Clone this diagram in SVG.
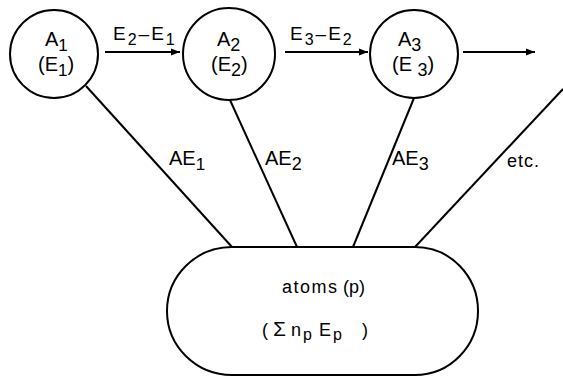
<svg xmlns="http://www.w3.org/2000/svg" width="563" height="377" viewBox="0 0 563 377">
<style>
.n{fill:none;stroke:#000;stroke-width:2}
.c{stroke:#000;stroke-width:2;fill:none}
text{font-family:"Liberation Sans",Arial,sans-serif;fill:#000}
.lb{font-size:20px}
.al{font-size:19px;letter-spacing:2px}
.sm{font-size:18px}
</style>
<defs>
<marker id="ah" markerUnits="userSpaceOnUse" markerWidth="10" markerHeight="8" refX="9" refY="4" orient="auto">
<path d="M0,0.5 L9,4 L0,7.5 z" fill="#000"/>
</marker>
</defs>
<g id="connectors">
<line class="c" x1="105" y1="52" x2="180" y2="52" marker-end="url(#ah)"/>
<line class="c" x1="285" y1="52" x2="368" y2="52" marker-end="url(#ah)"/>
<line class="c" x1="463" y1="52" x2="535" y2="52" marker-end="url(#ah)"/>
<line class="c" x1="86" y1="86" x2="232" y2="247"/>
<line class="c" x1="230" y1="100" x2="297" y2="247"/>
<line class="c" x1="414" y1="98" x2="353" y2="247"/>
<line class="c" x1="563" y1="89" x2="415" y2="247"/>
<text class="al" x="113" y="40">E<tspan dy="5" font-size="16">2</tspan><tspan dy="-5">–E</tspan><tspan dy="5" font-size="16">1</tspan></text>
<text class="al" x="290" y="40">E<tspan dy="5" font-size="16">3</tspan><tspan dy="-5">–E</tspan><tspan dy="5" font-size="16">2</tspan></text>
<text class="lb" x="169" y="165">AE<tspan dy="5" font-size="17">1</tspan></text>
<text class="lb" x="265" y="165">AE<tspan dy="5" font-size="18">2</tspan></text>
<text class="lb" x="392" y="165">AE<tspan dy="5" font-size="18">3</tspan></text>
<text class="sm" x="507" y="167" letter-spacing="1">etc.</text>
</g>
<g id="A1">
<circle class="n" cx="54" cy="54" r="44"/>
<text class="lb" x="45" y="46">A<tspan dy="5" font-size="17">1</tspan></text>
<text class="lb" x="38" y="71">(E<tspan dy="5" font-size="17">1</tspan><tspan dy="-5">)</tspan></text>
</g>
<g id="A2">
<circle class="n" cx="229" cy="54" r="46"/>
<text class="lb" x="217" y="46">A<tspan dy="5" font-size="18">2</tspan></text>
<text class="lb" x="211" y="71">(E<tspan dy="5" font-size="18">2</tspan><tspan dy="-5">)</tspan></text>
</g>
<g id="A3">
<circle class="n" cx="414" cy="54" r="44"/>
<text class="lb" x="398" y="46">A<tspan dy="5" font-size="18">3</tspan></text>
<text class="lb" x="392" y="71">(E <tspan dy="5" font-size="18">3</tspan><tspan dy="-5">)</tspan></text>
</g>
<g id="atoms">
<path class="n" d="M232,247 H415 A63,64 0 0 1 415,375 H232 A65,64 0 0 1 232,247 Z"/>
<text class="sm" y="293"><tspan x="282" letter-spacing="1.5">atoms</tspan><tspan x="343">(p)</tspan></text>
<text class="sm" y="336" font-size="19"><tspan x="262">(</tspan><tspan x="273" font-size="21">Σ</tspan><tspan x="291">n</tspan><tspan x="303" dy="4" font-size="16">p</tspan><tspan x="319" dy="-4">E</tspan><tspan x="333" dy="4" font-size="16">p</tspan><tspan x="362" dy="-4">)</tspan></text>
</g>
</svg>
